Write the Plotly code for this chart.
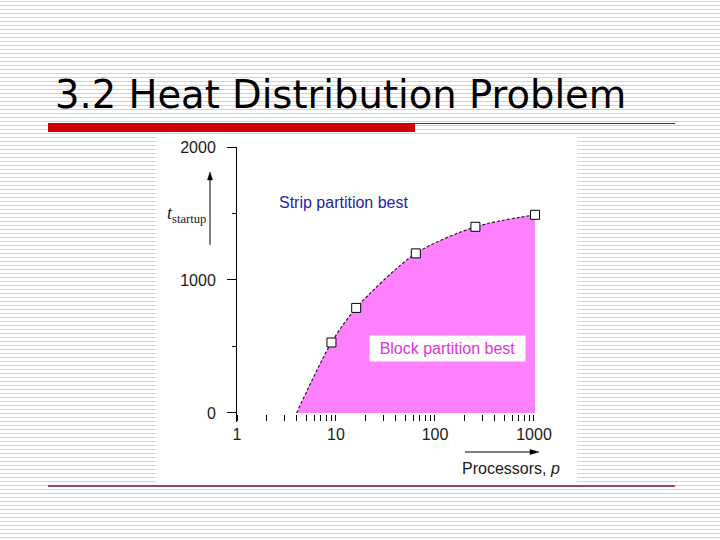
import math
import plotly.graph_objects as go

# ---- data ----
processors = [4, 9, 16, 64, 256, 1024]
t_startup = [0, 530, 790, 1200, 1400, 1490]
x_tick_vals = [1, 10, 100, 1000]
x_tick_text = ["1", "10", "100", "1000"]
y_tick_vals = [0, 1000, 2000]
y_tick_text = ["0", "1000", "2000"]
y_minor_vals = [500, 1500]
x_minor_vals = [m * 10 ** k for k in range(3) for m in range(2, 10)]

W, H = 720, 540
L, R, T, B = 237, 185, 147, 118
PW = W - L - R
PH = H - T - B


def px(x):
    return (x - L) / PW


def py(y):
    return (H - B - y) / PH


shapes = []
# striped slide background
for yy in range(1, H, 4):
    shapes.append(dict(type="line", xref="paper", yref="paper",
                       x0=px(0), x1=px(W), y0=py(yy + 0.5), y1=py(yy + 0.5),
                       line=dict(color="#d2d2d2", width=1), layer="below"))
# white chart panel
shapes.append(dict(type="rect", xref="paper", yref="paper",
                   x0=px(156), x1=px(577), y0=py(482), y1=py(134),
                   fillcolor="white", line=dict(width=0), layer="below"))
# red title bar + thin line
shapes.append(dict(type="line", xref="paper", yref="paper",
                   x0=px(48), x1=px(675), y0=py(123.5), y1=py(123.5),
                   line=dict(color="#cc0000", width=1), layer="below"))
shapes.append(dict(type="rect", xref="paper", yref="paper",
                   x0=px(48), x1=px(415), y0=py(132), y1=py(123),
                   fillcolor="#cc0000", line=dict(width=0), layer="below"))
# bottom line
shapes.append(dict(type="line", xref="paper", yref="paper",
                   x0=px(48), x1=px(675), y0=py(486), y1=py(486),
                   line=dict(color="#7a1426", width=1.5), layer="below"))


def path(points):
    return "M " + " L ".join(f"{px(a):.5f},{py(b):.5f}" for a, b in points) + " Z"


# axis direction arrows (line + head)
shapes.append(dict(type="line", xref="paper", yref="paper",
                   x0=px(210), x1=px(210), y0=py(245), y1=py(178),
                   line=dict(color="black", width=1)))
shapes.append(dict(type="path", xref="paper", yref="paper",
                   path=path([(210, 172), (207.5, 180), (212.5, 180)]),
                   fillcolor="black", line=dict(color="black", width=0.5)))
shapes.append(dict(type="line", xref="paper", yref="paper",
                   x0=px(465), x1=px(532), y0=py(452), y1=py(452),
                   line=dict(color="black", width=1)))
shapes.append(dict(type="path", xref="paper", yref="paper",
                   path=path([(539, 452), (530, 449.5), (530, 454.5)]),
                   fillcolor="black", line=dict(color="black", width=0.5)))

fig = go.Figure()
fig.add_trace(go.Scatter(
    x=processors, y=t_startup, mode="lines",
    line=dict(color="#222222", width=1.2, dash="3px,2px", shape="spline", smoothing=0.8),
    fill="tozeroy", fillcolor="#ff80ff", hoverinfo="skip", showlegend=False))
fig.add_trace(go.Scatter(
    x=processors[1:], y=t_startup[1:], mode="markers", cliponaxis=False,
    marker=dict(symbol="square", size=9, color="white", line=dict(color="black", width=1)),
    showlegend=False))

tick_font = dict(family="Liberation Sans, Arial, sans-serif", size=16, color="#1a1a1a")

fig.update_layout(
    width=W, height=H,
    margin=dict(l=L, r=R, t=T, b=B, pad=0),
    paper_bgcolor="white", plot_bgcolor="rgba(0,0,0,0)",
    shapes=shapes,
    xaxis=dict(type="log", range=[0, math.log10(1024)],
               tickmode="array", tickvals=x_tick_vals, ticktext=x_tick_text,
               ticks="outside", ticklen=6, tickcolor="black", tickwidth=1,
               showline=False, showgrid=False, zeroline=False,
               anchor="free", position=py(414),
               minor=dict(tickmode="array", tickvals=x_minor_vals, ticks="outside",
                          ticklen=6, tickcolor="black", showgrid=False),
               tickfont=tick_font),
    yaxis=dict(range=[-68, 2000],
               tickmode="array", tickvals=y_tick_vals, ticktext=y_tick_text,
               ticks="outside", ticklen=9, tickcolor="black", tickwidth=1,
               showline=True, linecolor="black", linewidth=1,
               showgrid=False, zeroline=False, ticklabelstandoff=8,
               minor=dict(tickmode="array", tickvals=y_minor_vals, ticks="outside",
                          ticklen=4, tickcolor="black", showgrid=False),
               tickfont=tick_font),
    annotations=[
        dict(text="3.2 Heat Distribution Problem", xref="paper", yref="paper",
             x=px(53), y=py(95), xanchor="left", yanchor="middle", showarrow=False,
             font=dict(family="DejaVu Sans", size=38.5, color="black")),
        dict(text="Strip partition best", xref="paper", yref="paper",
             x=px(277), y=py(202), xanchor="left", yanchor="middle", showarrow=False,
             font=dict(family="Liberation Sans, Arial, sans-serif", size=16, color="#2424aa")),
        dict(text="Block partition best", xref="paper", yref="paper",
             x=px(447.5), y=py(348.5), xanchor="center", yanchor="middle", showarrow=False,
             width=155, height=25, bgcolor="white", borderpad=0,
             font=dict(family="Liberation Sans, Arial, sans-serif", size=16, color="#dd33dd")),
        dict(text="<i>t</i><sub>startup</sub>", xref="paper", yref="paper",
             x=px(165), y=py(214), xanchor="left", yanchor="middle", showarrow=False,
             font=dict(family="Liberation Serif, Times New Roman, serif", size=18, color="#1a1a1a")),
        dict(text="Processors, <i>p</i>", xref="paper", yref="paper",
             x=px(460), y=py(468), xanchor="left", yanchor="middle", showarrow=False,
             font=dict(family="Liberation Sans, Arial, sans-serif", size=16, color="#1a1a1a")),
    ],
)

fig.write_html("out.html",
               config={"displayModeBar": False},
               post_script="document.body.style.margin='0';document.body.style.padding='0';")
